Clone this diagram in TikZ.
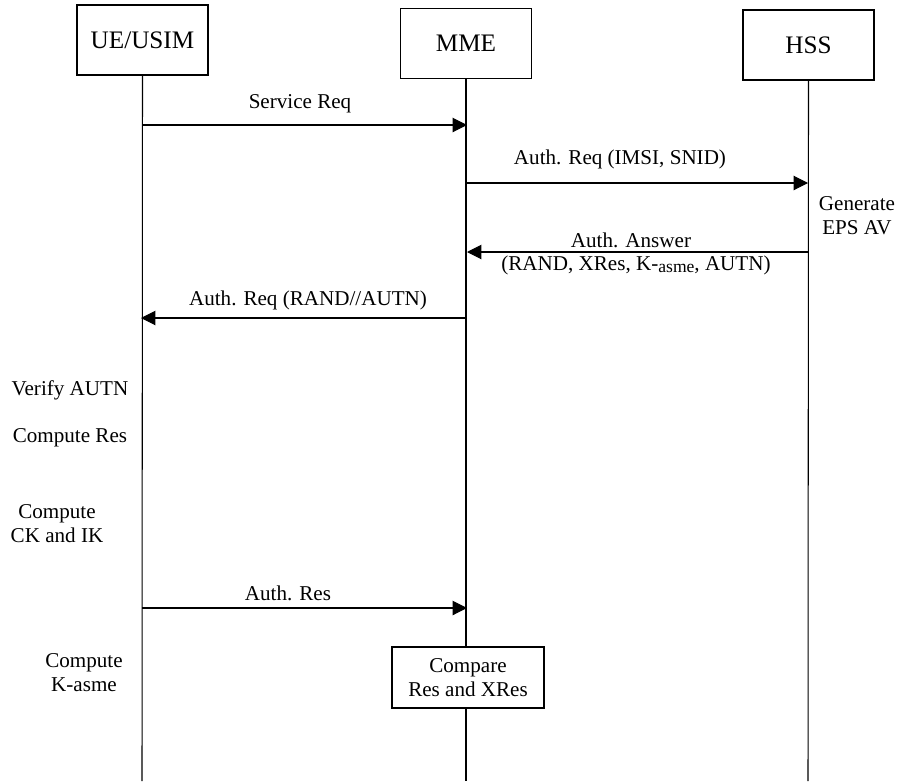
\documentclass[tikz,border=0pt]{standalone}
\usepackage{fontspec}
\setmainfont{Liberation Serif}
\usetikzlibrary{arrows.meta, positioning}

\begin{document}
\begin{tikzpicture}[x=0.03cm, y=-0.03cm,
    entity/.style={draw, line width=1.1pt, minimum width=3.93cm, minimum height=2.1cm,
      inner sep=0pt, font=\fontsize{21.5}{24}\selectfont},
    life/.style={line width=0.9pt},
    msg/.style={line width=0.9pt, -{Triangle[length=4.3mm, width=4.3mm]}},
    lbl/.style={font=\fontsize{18}{20.5}\selectfont, inner sep=0pt, align=center},
    action/.style={draw, line width=1.1pt, minimum width=4.56cm, minimum height=1.83cm,
      inner sep=0pt, align=center, font=\fontsize{18}{20.5}\selectfont},
  ]
    \useasboundingbox (0,0) rectangle (899,781);

    % entities
    \node[entity] (ue) at (142.5,40) {UE/USIM};
    \node[entity] (mme) at (466,43.5) {MME};
    \node[entity] (hss) at (808.5,45) {HSS};
    \node[action] (cmp) at (468,677.5) {Compare\\ Res and XRes};

    % lifelines
    \coordinate (ueEnd) at (142,781);
    \coordinate (mmeEnd) at (466,781);
    \coordinate (hssEnd) at (808,781);
    \draw[life] (ue.south) -- (ueEnd);
    \draw[life] (mme.south) -- (mme.south |- cmp.north);
    \draw[life] (mme.south |- cmp.south) -- (mmeEnd);
    \draw[life] (hss.south) -- (hssEnd);

    % message ends
    \coordinate (ue1) at (142,125);   \coordinate (mme1) at (467,125);
    \coordinate (mme2) at (466,183);  \coordinate (hss2) at (808,183);
    \coordinate (hss3) at (808,252);  \coordinate (mme3) at (467,252);
    \coordinate (mme4) at (466,318);  \coordinate (ue4) at (141,318);
    \coordinate (ue5) at (142,608);   \coordinate (mme5) at (467,608);

    \draw[msg] (ue1) -- (mme1);
    \node[lbl] (svcreq) at (300,104) {Service Req};
    \draw[msg] (mme2) -- (hss2);
    \node[lbl] (authreq) at (620,159) {Auth. Req (IMSI, SNID)};
    \draw[msg] (hss3) -- (mme3);
    \node[lbl] (answer) at (631,240) {Auth. Answer};
    \node[lbl] (answervals) at (636,265) {(RAND, XRes, K-\raisebox{-0.25ex}{\fontsize{15}{17}\selectfont asme}, AUTN)};
    \draw[msg] (mme4) -- (ue4);
    \node[lbl] (authreq2) at (308,300) {Auth. Req (RAND//AUTN)};
    \draw[msg] (ue5) -- (mme5);
    \node[lbl] (authres) at (288,593) {Auth. Res};

    % local actions
    \node[lbl] (genav) at (857,216) {Generate\\EPS AV};
    \node[lbl] (verify) at (70,390) {Verify AUTN};
    \node[lbl] (compres) at (70,438) {Compute Res};
    \node[lbl] (compck) at (57,524) {Compute\\CK and IK};
    \node[lbl] (compk) at (84,673) {Compute\\K-asme};
  \end{tikzpicture}
\end{document}
